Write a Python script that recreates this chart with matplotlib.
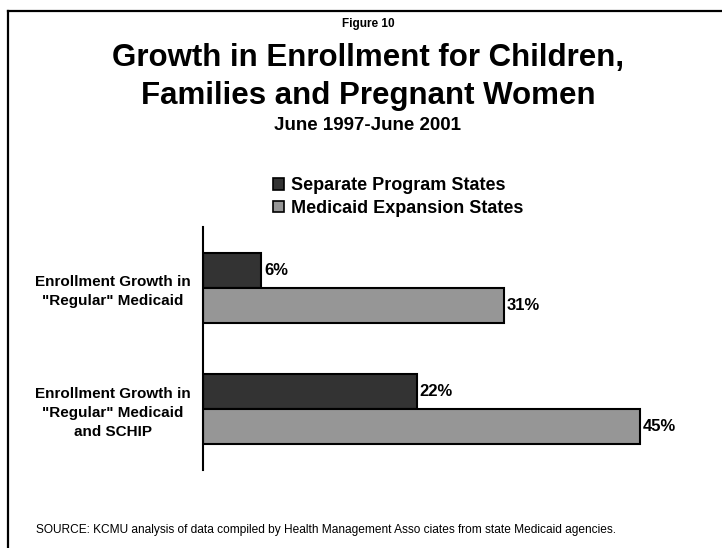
import matplotlib
matplotlib.use("Agg")
import matplotlib.pyplot as plt
from matplotlib.lines import Line2D
from matplotlib.patches import Patch
import numpy as np

plt.rcParams['font.family'] = ['Liberation Sans', 'DejaVu Sans']

# Enrollment growth, June 1997 - June 2001 (percent)
categories = ['Enrollment Growth in\n"Regular" Medicaid',
              'Enrollment Growth in\n"Regular" Medicaid\nand SCHIP']
separate_program = [6, 22]
medicaid_expansion = [31, 45]
series_names = ['Separate Program States', 'Medicaid Expansion States']
series_colors = ['#333333', '#969696']

W, H = 722, 548
fig = plt.figure(figsize=(W / 100, H / 100), dpi=100)

# plot area: zero line at x=203px, spans y=227..470px
ax = fig.add_axes([203 / W, 1 - 470 / H, 486 / W, 243 / H])

y = np.arange(len(categories))
h = 0.29
bars1 = ax.barh(y - h / 2, separate_program, height=h, color=series_colors[0],
                edgecolor='black', linewidth=1.5)
bars2 = ax.barh(y + h / 2, medicaid_expansion, height=h, color=series_colors[1],
                edgecolor='black', linewidth=1.5)
for b in (bars1, bars2):
    ax.bar_label(b, fmt='%d%%', padding=2, fontsize=12, fontweight='bold')

ax.set_xlim(0, 50)
ax.set_ylim(1.5, -0.5)
ax.set_yticks(y)
ax.set_yticklabels(categories, fontsize=11, fontweight='bold',
                   multialignment='center', linespacing=1.45)
ax.tick_params(axis='y', length=0, pad=9)
ax.set_xticks([])
for side in ['top', 'right', 'bottom']:
    ax.spines[side].set_visible(False)
ax.spines['left'].set_linewidth(1.5)

handles = [Patch(facecolor=c, edgecolor='black', linewidth=1.2) for c in series_colors]
fig.legend(handles, series_names, loc='center left',
           bbox_to_anchor=(273 / W, 1 - 197 / H), frameon=False,
           prop={'size': 13, 'weight': 'bold'}, handlelength=0.6,
           handleheight=0.6, handletextpad=0.4, labelspacing=0.3,
           borderpad=0, borderaxespad=0)

# titles
fig.text(368 / W, 1 - 24 / H, 'Figure 10', ha='center', va='center',
         fontsize=8.5, fontweight='bold')
fig.text(368 / W, 1 - 58 / H, 'Growth in Enrollment for Children,',
         ha='center', va='center', fontsize=22.5, fontweight='bold')
fig.text(368 / W, 1 - 96 / H, 'Families and Pregnant Women',
         ha='center', va='center', fontsize=22.5, fontweight='bold')
fig.text(367 / W, 1 - 125 / H, 'June 1997-June 2001', ha='center', va='center',
         fontsize=13.5, fontweight='bold')

fig.text(36 / W, 1 - 530 / H,
         'SOURCE: KCMU analysis of data compiled by Health Management Asso ciates from state Medicaid agencies.',
         ha='left', va='center', fontsize=8.6)

# frame lines along the top and left edge
fig.add_artist(Line2D([7.5 / W, 1], [1 - 10.5 / H, 1 - 10.5 / H], color='black',
                      linewidth=1.6, transform=fig.transFigure))
fig.add_artist(Line2D([7.5 / W, 7.5 / W], [0, 1 - 10.5 / H], color='black',
                      linewidth=1.6, transform=fig.transFigure))

fig.savefig('out.png', dpi=100)
